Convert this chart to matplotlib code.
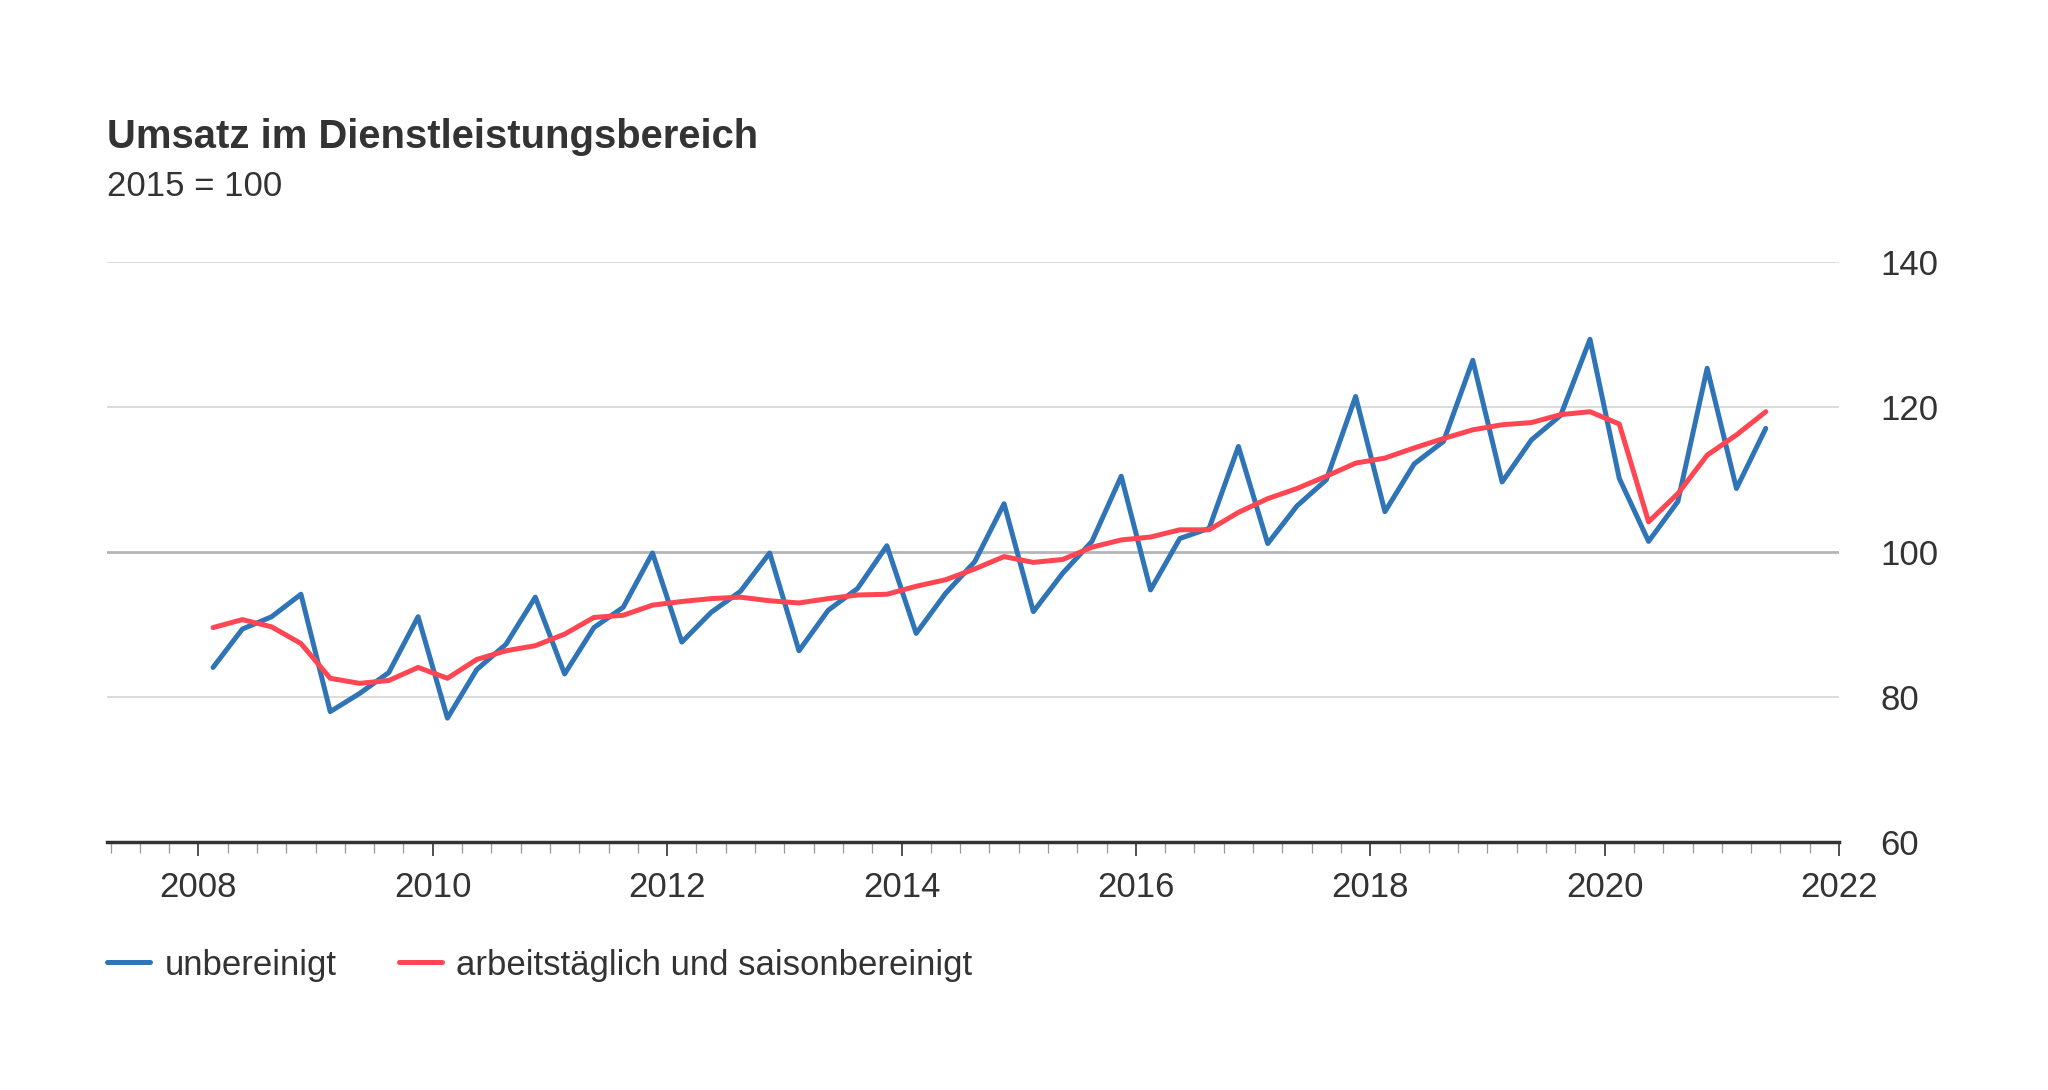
import numpy as np
import pandas as pd
import matplotlib
matplotlib.use("Agg")
import matplotlib.pyplot as plt

plt.rcParams['font.family'] = ['Liberation Sans', 'DejaVu Sans']

# quarterly index values, 2015 = 100
quarters = pd.period_range("2008Q1", "2021Q2", freq="Q")
unbereinigt = [84.1, 89.4, 91.1, 94.2,
               78.0, 80.5, 83.4, 91.1,
               77.1, 83.8, 87.3, 93.8,
               83.2, 89.6, 92.4, 99.9,
               87.6, 91.7, 94.6, 99.9,
               86.4, 92.0, 95.0, 100.9,
               88.8, 94.3, 98.7, 106.7,
               91.8, 97.1, 101.5, 110.5,
               94.8, 101.9, 103.3, 114.6,
               101.2, 106.4, 110.0, 121.5,
               105.6, 112.2, 115.3, 126.5,
               109.7, 115.5, 118.9, 129.4,
               110.2, 101.5, 107.0, 125.4,
               108.8, 117.1]
bereinigt = [89.6, 90.7, 89.7, 87.4,
             82.6, 81.9, 82.3, 84.1,
             82.6, 85.2, 86.4, 87.1,
             88.7, 91.0, 91.3, 92.7,
             93.2, 93.6, 93.8, 93.3,
             93.0, 93.6, 94.1, 94.2,
             95.3, 96.2, 97.7, 99.4,
             98.6, 99.0, 100.7, 101.7,
             102.1, 103.1, 103.1, 105.5,
             107.4, 108.8, 110.5, 112.3,
             113.0, 114.4, 115.7, 116.9,
             117.6, 117.9, 119.0, 119.4,
             117.7, 104.2, 108.1, 113.4,
             116.2, 119.4]
year_ticks = [2008, 2010, 2012, 2014, 2016, 2018, 2020, 2022]
y_ticks = [60, 80, 100, 120, 140]

# middle of each quarter as decimal year
x = quarters.year + (quarters.quarter - 0.5) / 4

blue = "#2e74b7"
red = "#ff4652"
text_col = "#333333"

fig = plt.figure(figsize=(20.48, 10.9), dpi=100)
ax = fig.add_axes([107/2048, 1 - 842/1090, (1839 - 107)/2048, (842 - 262.5)/1090])

for v in y_ticks[1:]:
    if v == 100:
        ax.axhline(v, color="#b5b5b5", lw=2.0, zorder=1)
    else:
        ax.axhline(v, color="#d6d6d6", lw=1.2, zorder=1)

l1, = ax.plot(x, unbereinigt, color=blue, lw=3.6, solid_joinstyle="round",
              solid_capstyle="round", label="unbereinigt", zorder=3)
l2, = ax.plot(x, bereinigt, color=red, lw=3.6, solid_joinstyle="round",
              solid_capstyle="round", label="arbeitstäglich und saisonbereinigt", zorder=4)

ax.set_xlim(2007.22, 2022.0)
ax.set_ylim(60, 140)

for s in ["top", "left", "right"]:
    ax.spines[s].set_visible(False)
ax.spines["bottom"].set_color(text_col)
ax.spines["bottom"].set_linewidth(2.5)

ax.set_xticks(year_ticks)
ax.set_xticks(np.arange(2007.25, 2022.01, 0.25), minor=True)
ax.tick_params(axis="x", which="major", length=10, width=1.2, color=text_col,
               labelsize=25, labelcolor=text_col, pad=11)
ax.tick_params(axis="x", which="minor", length=8, width=0.9, color="#999999")

ax.yaxis.tick_right()
ax.set_yticks(y_ticks)
ax.tick_params(axis="y", length=0, labelsize=25, labelcolor=text_col, pad=30)

fig.text(107/2048, 1 - 148/1090, "Umsatz im Dienstleistungsbereich", fontsize=28.8,
         fontweight="bold", color=text_col, va="baseline")
fig.text(107/2048, 1 - 196/1090, "2015 = 100", fontsize=25, color=text_col, va="baseline")

fig.legend(handles=[l1, l2], loc="center left", bbox_to_anchor=(107/2048, 1 - 965/1090),
           ncol=2, frameon=False, fontsize=25, handlelength=1.25, handletextpad=0.4,
           columnspacing=1.8, labelcolor=text_col, borderpad=0, borderaxespad=0)

fig.savefig("out.png", dpi=100, facecolor="white")
